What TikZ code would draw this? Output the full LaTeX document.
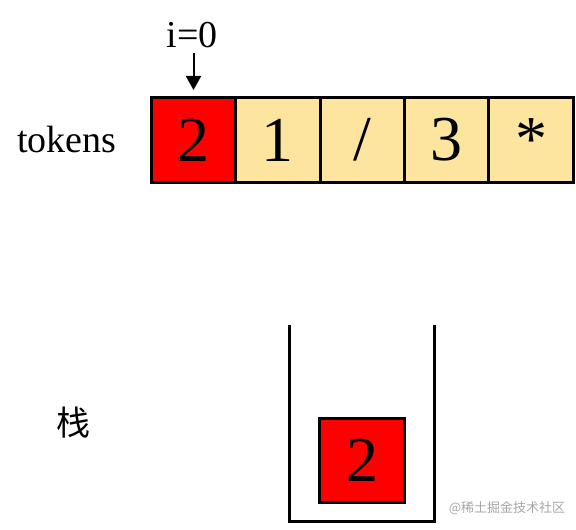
\documentclass[tikz,border=0pt]{standalone}
\usepackage{fontspec}
\setmainfont{Liberation Serif}
\newfontfamily\cjk{Noto Sans CJK SC}
\usetikzlibrary{arrows.meta,positioning}

\definecolor{cellyellow}{RGB}{253,229,160}
\definecolor{cellred}{RGB}{255,0,0}

\tikzset{
  cell/.style={draw=black, line width=1.5pt, fill=cellyellow, outer sep=0pt,
    minimum width=42.2pt, minimum height=42pt, inner sep=0pt,
    font=\fontsize{32}{32}\selectfont},
  current/.style={cell, fill=cellred},
  label text/.style={font=\fontsize{19}{19}\selectfont}
}

\begin{document}
\begin{tikzpicture}[x=0.5pt, y=-0.5pt]
    \useasboundingbox (0,0) rectangle (576,529);
    % token array
    \node[current] (c1) at (193.5,140) {2};
    \node[cell, right=0pt of c1] (c2) {1};
    \node[cell, right=0pt of c2] (c3) {/};
    \node[cell, right=0pt of c3] (c4) {3};
    \node[cell, right=0pt of c4] (c5) {*};
    \node[label text] (tokens) at (67,140) {tokens};
    % pointer
    \node[label text] (idx) at (192,35) {i=0};
    \coordinate (ptr) at (193.5,53);
    \draw[line width=1pt, -{Triangle[length=7pt, width=7.5pt]}, shorten >=4pt]
      (ptr) -- (c1.north);
    % stack
    \coordinate (sLT) at (289,325);
    \coordinate (sLB) at (289,521);
    \coordinate (sRB) at (434,521);
    \coordinate (sRT) at (434,325);
    \draw[line width=1.5pt] (sLT) -- (sLB) -- (sRB) -- (sRT);
    \node[current] (s1) at (362,460) {2};
    \node[font=\cjk\fontsize{17}{17}\selectfont] (stack) at (73,423) {栈};
    \node[font=\cjk\fontsize{6.5}{6.5}\selectfont, text=black!35] (mark) at (507,508) {@稀土掘金技术社区};
\end{tikzpicture}
\end{document}
